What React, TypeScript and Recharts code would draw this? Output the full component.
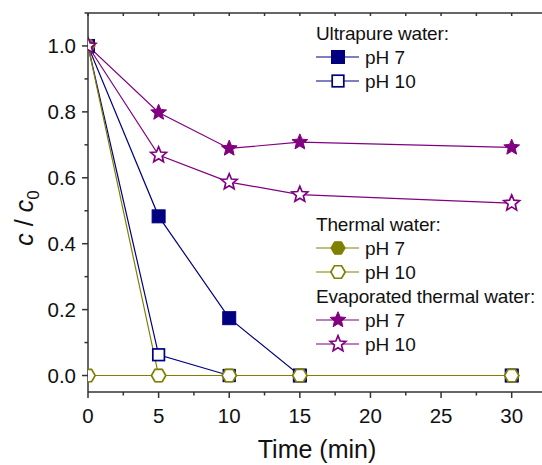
import React from 'react';
import { LineChart, Line, XAxis, YAxis } from 'recharts';

const times = [0, 5, 10, 15, 30];
const ultrapurePH7 = [1.0, 0.483, 0.174, 0.0, 0.0];
const ultrapurePH10 = [1.0, 0.063, 0.0, 0.0, 0.0];
const thermalPH7 = [1.0, 0.0, 0.0, 0.0, 0.0];
const thermalPH10 = [0.0, 0.0, 0.0, 0.0, 0.0];
const evaporatedPH7 = [1.0, 0.798, 0.689, 0.708, 0.692];
const evaporatedPH10 = [1.0, 0.669, 0.587, 0.549, 0.523];

const xMajor = [0, 5, 10, 15, 20, 25, 30];
const xAll = [0, 2.5, 5, 7.5, 10, 12.5, 15, 17.5, 20, 22.5, 25, 27.5, 30, 32.5];
const yMajor = [0, 0.2, 0.4, 0.6, 0.8, 1.0];
const yAll = [0, 0.1, 0.2, 0.3, 0.4, 0.5, 0.6, 0.7, 0.8, 0.9, 1.0, 1.1];

const NAVY = '#000080';
const OLIVE = '#808000';
const PURPLE = '#800080';
const AXIS = '#333';
const FONT = '"Liberation Sans", Arial, sans-serif';

const data = times.map((t, i) => ({
  t,
  upH7: ultrapurePH7[i],
  upH10: ultrapurePH10[i],
  thH7: thermalPH7[i],
  thH10: thermalPH10[i],
  evH7: evaporatedPH7[i],
  evH10: evaporatedPH10[i],
}));

const isIn = (arr: number[], v: number) => arr.some(m => Math.abs(m - v) < 1e-9);

function starPoints(cx: number, cy: number, r: number) {
  const pts: string[] = [];
  for (let i = 0; i < 10; i++) {
    const rr = i % 2 === 0 ? r : r * 0.45;
    const a = -Math.PI / 2 + (i * Math.PI) / 5;
    pts.push(`${cx + rr * Math.cos(a)},${cy + rr * Math.sin(a)}`);
  }
  return pts.join(' ');
}

function hexPoints(cx: number, cy: number, r: number) {
  const pts: string[] = [];
  for (let i = 0; i < 6; i++) {
    const a = (i * Math.PI) / 3;
    pts.push(`${cx + r * Math.cos(a)},${cy + r * Math.sin(a)}`);
  }
  return pts.join(' ');
}

function Marker({ cx, cy, kind, filled, color }: { cx: number; cy: number; kind: string; filled: boolean; color: string }) {
  const fill = filled ? color : '#fff';
  const sw = filled ? 1 : 1.7;
  if (kind === 'square') {
    const h = filled ? 6.5 : 5.8;
    return <rect x={cx - h} y={cy - h} width={h * 2} height={h * 2} fill={fill} stroke={color} strokeWidth={sw} />;
  }
  if (kind === 'hex') {
    return <polygon points={hexPoints(cx, cy, 7.2)} fill={fill} stroke={color} strokeWidth={sw} />;
  }
  return <polygon points={starPoints(cx, cy, 8.3)} fill={fill} stroke={color} strokeWidth={sw} strokeLinejoin="miter" />;
}

const dotFn = (kind: string, filled: boolean, color: string) => (p: any) => (
  <Marker key={`${kind}-${filled}-${p.index}`} cx={p.cx} cy={p.cy} kind={kind} filled={filled} color={color} />
);

const YTick = (props: any) => {
  const { x, y, payload } = props;
  const major = isIn(yMajor, payload.value);
  return (
    <g>
      <line x1={x} x2={x - (major ? 6 : 3.5)} y1={y} y2={y} stroke={AXIS} strokeWidth={1.5} />
      {major && (
        <text x={x - 12} y={y} textAnchor="end" dominantBaseline="central" fontSize={20.5} fontFamily={FONT} fill="#111">
          {payload.value.toFixed(1)}
        </text>
      )}
    </g>
  );
};

const XTick = (props: any) => {
  const { x, y, payload } = props;
  const major = isIn(xMajor, payload.value);
  return (
    <g>
      <line x1={x} x2={x} y1={y} y2={y + (major ? 6 : 3.5)} stroke={AXIS} strokeWidth={1.5} />
      {major && (
        <text x={x} y={y + 16} dy="0.71em" textAnchor="middle" fontSize={20.5} fontFamily={FONT} fill="#111">
          {payload.value}
        </text>
      )}
    </g>
  );
};

const TopTick = (props: any) => {
  const { x, y } = props;
  return <line x1={x} x2={x} y1={y} y2={y + 3} stroke={AXIS} strokeWidth={1.5} />;
};

const legendGroups = [
  {
    title: 'Ultrapure water:', y: 33, rows: [
      { label: 'pH 7', kind: 'square', filled: true, color: NAVY },
      { label: 'pH 10', kind: 'square', filled: false, color: NAVY },
    ],
  },
  {
    title: 'Thermal water:', y: 224, rows: [
      { label: 'pH 7', kind: 'hex', filled: true, color: OLIVE },
      { label: 'pH 10', kind: 'hex', filled: false, color: OLIVE },
    ],
  },
  {
    title: 'Evaporated thermal water:', y: 296, rows: [
      { label: 'pH 7', kind: 'star', filled: true, color: PURPLE },
      { label: 'pH 10', kind: 'star', filled: false, color: PURPLE },
    ],
  },
];

export default function App() {
  return (
    <div style={{ position: 'absolute', left: 0, top: 0, width: 542, height: 465, overflow: 'hidden', background: '#fff' }}>
      <LineChart width={560} height={465} data={data} margin={{ top: 0, right: 13, bottom: 43, left: 28 }}>
        <XAxis
          dataKey="t"
          type="number"
          domain={[0, 32.5]}
          allowDataOverflow
          ticks={xAll}
          interval={0}
          height={30}
          tickSize={0}
          tickMargin={0}
          tickLine={false}
          axisLine={{ stroke: AXIS, strokeWidth: 1.5 }}
          tick={<XTick />}
        />
        <XAxis
          xAxisId="top"
          orientation="top"
          dataKey="t"
          type="number"
          domain={[0, 32.5]}
          ticks={xAll}
          interval={0}
          height={13}
          tickSize={0}
          tickMargin={0}
          tickLine={false}
          axisLine={{ stroke: AXIS, strokeWidth: 1.5 }}
          tick={<TopTick />}
        />
        <YAxis
          type="number"
          domain={[-0.05, 1.1]}
          ticks={yAll}
          interval={0}
          width={60}
          tickSize={0}
          tickMargin={0}
          tickLine={false}
          axisLine={{ stroke: AXIS, strokeWidth: 1.5 }}
          tick={<YTick />}
        />
        <Line dataKey="upH7" stroke={NAVY} strokeWidth={1.2} isAnimationActive={false} dot={dotFn('square', true, NAVY)} />
        <Line dataKey="upH10" stroke={NAVY} strokeWidth={1.2} isAnimationActive={false} dot={dotFn('square', false, NAVY)} />
        <Line dataKey="thH7" stroke={OLIVE} strokeWidth={1.2} isAnimationActive={false} dot={dotFn('hex', true, OLIVE)} />
        <Line dataKey="thH10" stroke={OLIVE} strokeWidth={1.2} isAnimationActive={false} dot={dotFn('hex', false, OLIVE)} />
        <Line dataKey="evH7" stroke={PURPLE} strokeWidth={1.2} isAnimationActive={false} dot={dotFn('star', true, PURPLE)} />
        <Line dataKey="evH10" stroke={PURPLE} strokeWidth={1.2} isAnimationActive={false} dot={dotFn('star', false, PURPLE)} />
      </LineChart>
      <svg width={542} height={465} style={{ position: 'absolute', left: 0, top: 0, pointerEvents: 'none' }}>
        {legendGroups.map(g => (
          <g key={g.title}>
            <text x={316} y={g.y} dominantBaseline="central" fontSize={19} letterSpacing={-0.15} fontFamily={FONT} fill="#111">{g.title}</text>
            {g.rows.map((r, i) => {
              const ry = g.y + 24 * (i + 1);
              return (
                <g key={r.label}>
                  <line x1={316} x2={359} y1={ry} y2={ry} stroke={r.color} strokeWidth={1.2} />
                  <Marker cx={338} cy={ry} kind={r.kind} filled={r.filled} color={r.color} />
                  <text x={365} y={ry} dominantBaseline="central" fontSize={19} fontFamily={FONT} fill="#111">{r.label}</text>
                </g>
              );
            })}
          </g>
        ))}
        <text
          transform="translate(33,218) rotate(-90)"
          textAnchor="middle"
          fontSize={25}
          fontFamily={FONT}
          fill="#111"
        >
          <tspan fontStyle="italic">c</tspan>
          <tspan> / </tspan>
          <tspan fontStyle="italic">c</tspan>
          <tspan fontSize={17} dy={6}>0</tspan>
        </text>
        <text x={317} y={458} textAnchor="middle" fontSize={25} fontFamily={FONT} fill="#111">Time (min)</text>
      </svg>
    </div>
  );
}
